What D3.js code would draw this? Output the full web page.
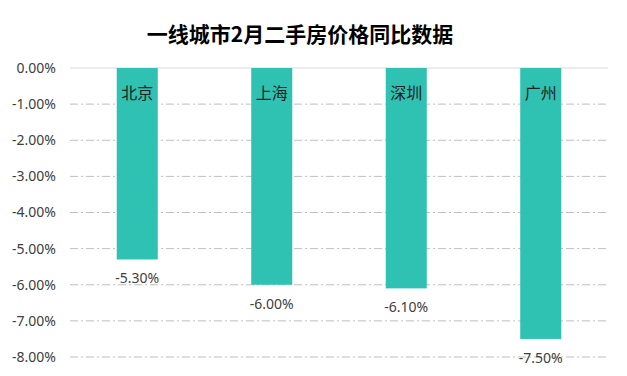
<!DOCTYPE html>
<html>
<head>
<meta charset="utf-8">
<script src="https://cdn.jsdelivr.net/npm/d3@7"></script>
<style>
  body { margin: 0; background: #fff; }
  svg text { font-family: "Noto Sans", "Noto Sans CJK SC", sans-serif; }
</style>
</head>
<body>
<div id="chart"></div>
<script>
/* DATA */
const cities = ["北京", "上海", "深圳", "广州"];
const values = [-5.3, -6.0, -6.1, -7.5];
const yTicks = [0, -1, -2, -3, -4, -5, -6, -7, -8];

/* CONSTANTS */
const width = 627,
  height = 376,
  margin = { top: 68, bottom: 19, left: 70, right: 19 };

// plain hyphen, like the original
const pct = d => (+d).toFixed(2) + "%";

const svg = d3.select("#chart")
  .append("svg")
  .attr("width", width)
  .attr("height", height);

const xScale = d3.scaleBand()
  .domain(cities)
  .range([margin.left, width - margin.right])
  .paddingInner(0.695)
  .paddingOuter(0.3475);

const yScale = d3.scaleLinear()
  .domain([0, -8])
  .range([margin.top, height - margin.bottom]);

// title
svg.append("text")
  .attr("x", 300)
  .attr("y", 42)
  .attr("text-anchor", "middle")
  .attr("font-size", 21)
  .attr("font-weight", "bold")
  .attr("fill", "#000")
  .style("font-family", "'Noto Sans CJK SC', sans-serif")
  .text("一线城市2月二手房价格同比数据");

// gridlines
svg.append("g")
  .selectAll("line")
  .data(yTicks)
  .join("line")
  .attr("x1", margin.left)
  .attr("x2", width - margin.right)
  .attr("y1", d => yScale(d))
  .attr("y2", d => yScale(d))
  .attr("stroke", d => d === 0 ? "#d9d9d9" : "#bfbfbf")
  .attr("stroke-width", 1)
  .attr("stroke-dasharray", d => d === 0 ? null : "8,3,2,3");

// y axis labels
const yAxis = d3.axisLeft(yScale)
  .tickValues(yTicks)
  .tickSize(0)
  .tickPadding(0)
  .tickFormat(pct);

svg.append("g")
  .attr("transform", `translate(56, 0)`)
  .call(yAxis)
  .call(g => g.select(".domain").remove())
  .selectAll("text")
  .attr("font-size", 14)
  .attr("fill", "#404040")
  .style("font-family", "'Noto Sans', sans-serif");

// bars
svg.append("g")
  .selectAll("rect")
  .data(cities)
  .join("rect")
  .attr("x", d => xScale(d))
  .attr("width", xScale.bandwidth())
  .attr("y", yScale(0))
  .attr("height", (d, i) => yScale(values[i]) - yScale(0))
  .attr("fill", "#2fc1b1");

// category labels inside bars
svg.append("g")
  .selectAll("text")
  .data(cities)
  .join("text")
  .attr("x", d => xScale(d) + xScale.bandwidth() / 2)
  .attr("y", yScale(-0.87))
  .attr("text-anchor", "middle")
  .attr("font-size", 16)
  .attr("fill", "#222")
  .style("font-family", "'Noto Sans CJK SC', sans-serif")
  .text(d => d);

// value labels below bars
svg.append("g")
  .selectAll("text")
  .data(cities)
  .join("text")
  .attr("x", d => xScale(d) + xScale.bandwidth() / 2)
  .attr("y", (d, i) => yScale(values[i]) + 24)
  .attr("text-anchor", "middle")
  .attr("font-size", 14)
  .attr("fill", "#404040")
  .text((d, i) => pct(values[i]));
</script>
</body>
</html>
